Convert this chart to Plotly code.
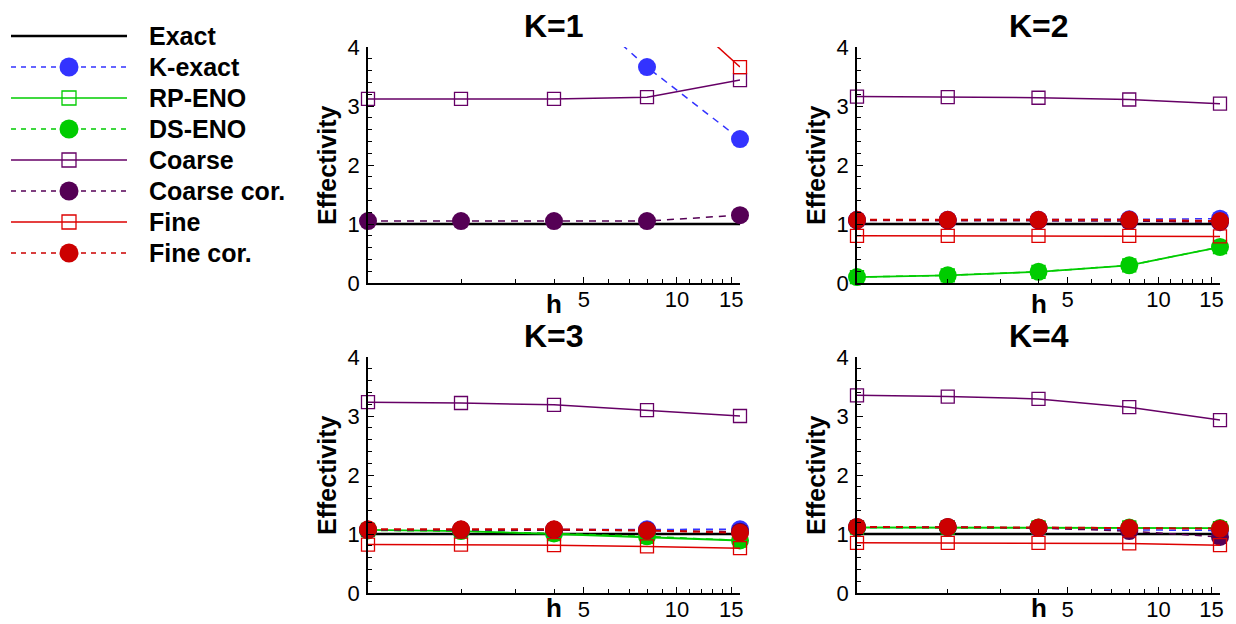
import math
import plotly.graph_objects as go

# ---- data -------------------------------------------------------------
h_values = [1, 2, 4, 8, 16]
panel_titles = ["K=1", "K=2", "K=3", "K=4"]
series_names = ["Exact", "K-exact", "RP-ENO", "DS-ENO",
                "Coarse", "Coarse cor.", "Fine", "Fine cor."]

x_tick_vals = [5, 10, 15]
x_tick_text = ["5", "10", "15"]
x_minor_vals = [2, 3, 4, 6, 7, 8, 9, 11, 12, 13, 14]
y_tick_vals = [0, 1, 2, 3, 4]
y_tick_text = ["0", "1", "2", "3", "4"]

# one row per panel (K=1 .. K=4), one value per h
exact = [
    [1.0, 1.0, 1.0, 1.0, 1.0],
    [1.0, 1.0, 1.0, 1.0, 1.0],
    [1.0, 1.0, 1.0, 1.0, 1.0],
    [1.0, 1.0, 1.0, 1.0, 1.0],
]
k_exact = [
    [None, None, 5.07, 3.66, 2.44],
    [1.07, 1.07, 1.07, 1.08, 1.09],
    [1.07, 1.07, 1.07, 1.08, 1.08],
    [1.11, 1.11, 1.10, 1.07, 1.06],
]
rp_eno = [
    [None, None, None, None, None],
    [0.10, 0.13, 0.19, 0.30, 0.61],
    [1.07, 1.05, 1.00, 0.95, 0.89],
    [1.11, 1.11, 1.11, 1.11, 1.10],
]
ds_eno = [
    [None, None, None, None, None],
    [0.10, 0.13, 0.19, 0.30, 0.61],
    [1.06, 1.05, 1.01, 0.96, 0.89],
    [1.11, 1.11, 1.11, 1.11, 1.10],
]
coarse = [
    [3.12, 3.12, 3.12, 3.15, 3.44],
    [3.16, 3.15, 3.14, 3.11, 3.04],
    [3.235, 3.22, 3.19, 3.10, 3.00],
    [3.35, 3.33, 3.29, 3.15, 2.93],
]
coarse_cor = [
    [1.05, 1.05, 1.05, 1.05, 1.15],
    [1.06, 1.06, 1.06, 1.05, 1.03],
    [1.07, 1.07, 1.07, 1.06, 1.04],
    [1.12, 1.12, 1.10, 1.05, 0.95],
]
fine = [
    [None, None, None, 5.09, 3.66],
    [0.80, 0.80, 0.80, 0.80, 0.79],
    [0.82, 0.82, 0.81, 0.79, 0.76],
    [0.85, 0.85, 0.85, 0.84, 0.81],
]
fine_cor = [
    [None, None, None, None, None],
    [1.07, 1.07, 1.07, 1.07, 1.05],
    [1.08, 1.08, 1.08, 1.06, 1.02],
    [1.12, 1.12, 1.11, 1.10, 1.09],
]

series_data = [exact, k_exact, rp_eno, ds_eno, coarse, coarse_cor, fine, fine_cor]

# ---- styling ------------------------------------------------------------
W, H = 1236, 624
FONT = "Liberation Sans, Arial, sans-serif"
Y_MAX = 4
DASH = "7px,6px"
LEG_DASH = "5px,5px"

styles = [
    dict(color="#000000", dash="solid", width=2.5, symbol=None),
    dict(color="#3333FF", dash=DASH, width=1.5, symbol="circle"),
    dict(color="#00CC00", dash="solid", width=1.8, symbol="square-open"),
    dict(color="#00CC00", dash=DASH, width=1.5, symbol="circle"),
    dict(color="#660066", dash="solid", width=1.5, symbol="square-open"),
    dict(color="#550055", dash=DASH, width=1.5, symbol="circle"),
    dict(color="#DD0000", dash="solid", width=1.5, symbol="square-open"),
    dict(color="#CC0000", dash=DASH, width=2.0, symbol="circle"),
]

col_px = [(368, 740), (857, 1220)]
row_px = [(47, 283), (357, 593)]
h_shift = [-21, -15]   # axis-name offset below each row


def xdom(c):
    return [col_px[c][0] / W, col_px[c][1] / W]


def ydom(r):
    return [1 - row_px[r][1] / H, 1 - row_px[r][0] / H]


fig = go.Figure()
layout = dict(
    template="none",
    width=W, height=H, autosize=False,
    margin=dict(l=0, r=0, t=0, b=0, pad=0, autoexpand=False),
    paper_bgcolor="white", plot_bgcolor="rgba(0,0,0,0)",
    showlegend=False, hovermode=False,
    font=dict(family=FONT, color="black"),
)
annotations = []

for p in range(4):
    r, c = divmod(p, 2)
    xa = "x" if p == 0 else f"x{p + 1}"
    ya = "y" if p == 0 else f"y{p + 1}"
    xkey = "xaxis" if p == 0 else f"xaxis{p + 1}"
    ykey = "yaxis" if p == 0 else f"yaxis{p + 1}"

    for name, data, st in zip(series_names, series_data, styles):
        vals = data[p]
        if all(v is None for v in vals):
            continue
        tr = dict(
            x=h_values, y=vals, xaxis=xa, yaxis=ya, name=name,
            line=dict(color=st["color"], width=st["width"], dash=st["dash"]),
            cliponaxis=False,
        )
        if st["symbol"] is None:
            tr["mode"] = "lines"
        else:
            is_open = st["symbol"].endswith("open")
            tr["mode"] = "lines+markers"
            tr["marker"] = dict(
                symbol=st["symbol"], color=st["color"],
                size=13 if is_open else 18,
                opacity=[1 if (v is not None and v <= Y_MAX) else 0 for v in vals],
                line=dict(width=1.3 if is_open else 0, color=st["color"]),
            )
        fig.add_trace(go.Scatter(**tr))

    layout[xkey] = dict(
        type="log", domain=xdom(c), anchor=ya, automargin=False,
        range=[0, math.log10(16)],
        tickmode="array", tickvals=x_tick_vals, ticktext=x_tick_text,
        ticks="inside", ticklen=6, tickwidth=1.3, tickcolor="black",
        tickfont=dict(size=22, family=FONT, color="black"),
        ticklabelstandoff=-4,
        minor=dict(tickmode="array", tickvals=x_minor_vals, ticks="inside",
                   ticklen=4, tickwidth=1.2, tickcolor="black", showgrid=False),
        showline=True, linecolor="black", linewidth=1.6,
        showgrid=False, zeroline=False, fixedrange=True,
    )
    layout[ykey] = dict(
        domain=ydom(r), anchor=xa, range=[0, Y_MAX], automargin=False,
        tickmode="array", tickvals=y_tick_vals, ticktext=y_tick_text,
        ticks="inside", ticklen=6, tickwidth=1.3, tickcolor="black",
        tickfont=dict(size=22, family=FONT, color="black"),
        ticklabelstandoff=2,
        minor=dict(dtick=0.2, ticks="inside", ticklen=4, tickwidth=1.2,
                   tickcolor="black", showgrid=False),
        showline=True, linecolor="black", linewidth=1.6,
        showgrid=False, zeroline=False, fixedrange=True,
    )

    dom_x = f"{xa} domain"
    dom_y = f"{ya} domain"
    annotations.append(dict(
        text=panel_titles[p], xref=dom_x, yref=dom_y, x=0.5, y=1,
        yshift=21, xanchor="center", yanchor="middle", showarrow=False,
        font=dict(size=32, family=FONT, color="black", weight="bold"),
    ))
    annotations.append(dict(
        text="Effectivity", xref=dom_x, yref=dom_y, x=0, y=0.5,
        xshift=-41, xanchor="center", yanchor="middle", textangle=-90,
        showarrow=False,
        font=dict(size=25, family=FONT, color="black", weight="bold"),
    ))
    annotations.append(dict(
        text="h", xref=dom_x, yref=dom_y, x=0.5, y=0,
        yshift=h_shift[r], xanchor="center", yanchor="middle", showarrow=False,
        font=dict(size=26, family=FONT, color="black", weight="bold"),
    ))

# ---- legend, drawn on its own pixel-scaled axes -------------------------
leg_top, leg_step = 36, 31
leg_x0, leg_x1, leg_xm, leg_tx = 11, 127, 69, 147
for i, (name, st) in enumerate(zip(series_names, styles)):
    ry = leg_top + leg_step * i
    fig.add_trace(go.Scatter(
        x=[leg_x0, leg_x1], y=[ry, ry], xaxis="x5", yaxis="y5", mode="lines",
        line=dict(color=st["color"],
                  width=2.5 if st["symbol"] is None else 1.5,
                  dash=LEG_DASH if st["dash"] != "solid" else "solid"),
        cliponaxis=False,
    ))
    if st["symbol"] is not None:
        is_open = st["symbol"].endswith("open")
        fig.add_trace(go.Scatter(
            x=[leg_xm], y=[ry], xaxis="x5", yaxis="y5", mode="markers",
            marker=dict(symbol=st["symbol"], color=st["color"],
                        size=14 if is_open else 19,
                        line=dict(width=1.3 if is_open else 0, color=st["color"])),
            cliponaxis=False,
        ))
    annotations.append(dict(
        text=name, xref="paper", yref="paper", x=leg_tx / W, y=1 - ry / H,
        xanchor="left", yanchor="middle", showarrow=False,
        font=dict(size=25, family=FONT, color="black", weight="bold"),
    ))

layout["xaxis5"] = dict(domain=[0, 1], range=[0, W], visible=False,
                        anchor="y5", fixedrange=True, automargin=False)
layout["yaxis5"] = dict(domain=[0, 1], range=[H, 0], visible=False,
                        anchor="x5", fixedrange=True, automargin=False)
layout["annotations"] = annotations

fig.update_layout(**layout)
fig.write_html("out.html")
